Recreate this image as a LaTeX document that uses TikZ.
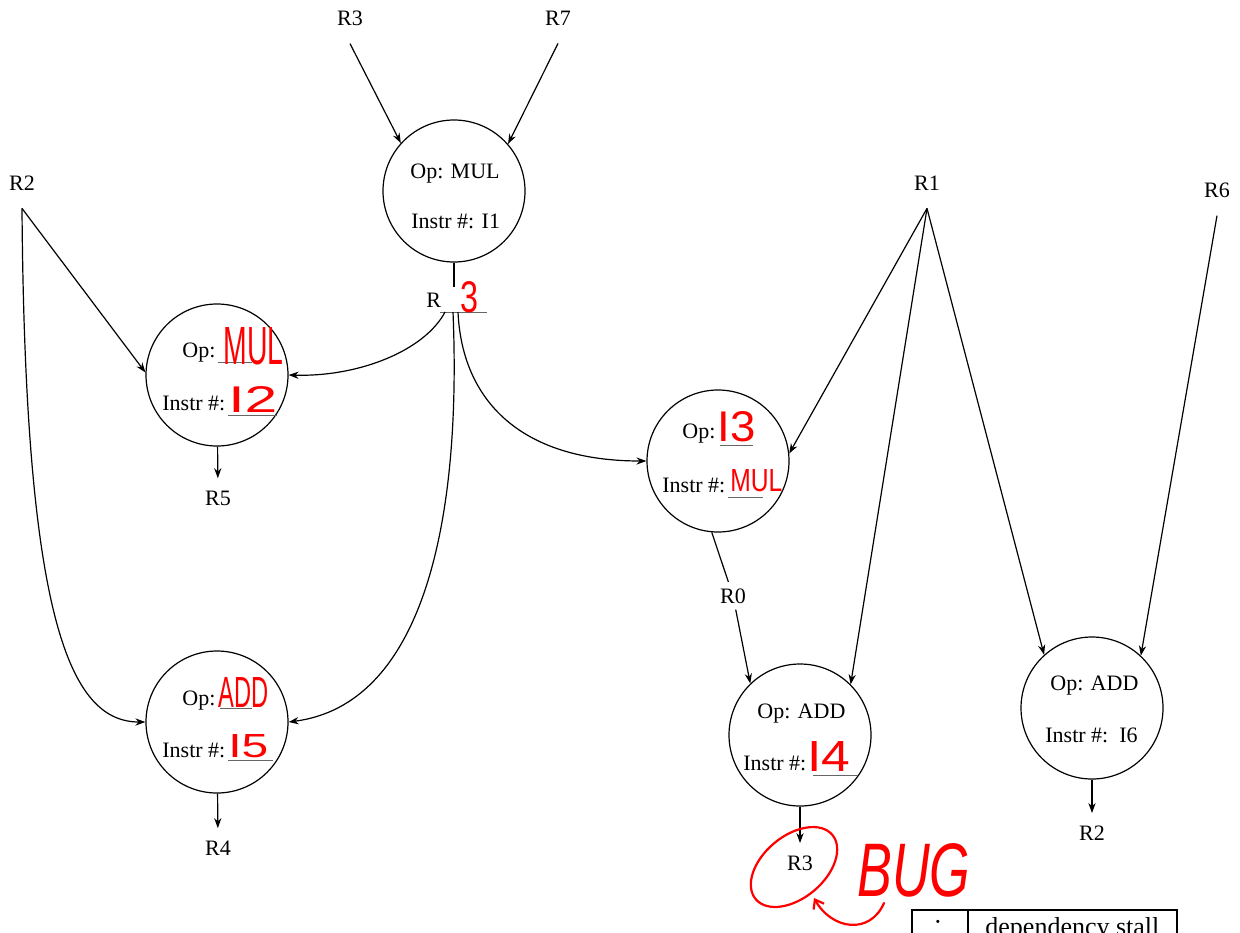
\documentclass[tikz,border=0pt]{standalone}
\usepackage{fontspec}
\setmainfont{Liberation Serif}
\newfontfamily\handfont{Liberation Sans}
\usepackage{graphicx}
\usetikzlibrary{arrows.meta}
\newcommand\hw[3]{\resizebox{#1pt}{#2pt}{\handfont #3}}
\tikzset{
  opnode/.style={circle, draw, line width=0.6pt, minimum size=71pt, inner sep=0pt},
  txt/.style={font=\fontsize{11}{13}\selectfont, inner sep=0pt, anchor=base west},
  toplbl/.style={font=\fontsize{11}{13}\selectfont, inner xsep=2pt, inner ysep=9pt, anchor=base},
  botlbl/.style={font=\fontsize{11}{13}\selectfont, inner xsep=2pt, inner ysep=6pt, anchor=base},
  midlbl/.style={font=\fontsize{11}{13}\selectfont, inner sep=3pt, anchor=base},
  arr/.style={line width=0.6pt, -{Stealth[length=5pt,width=3.6pt]}},
  plain/.style={line width=0.6pt},
  blankline/.style={draw=black!60, line width=0.5pt},
  hand/.style={text=red, inner sep=0pt, anchor=south west},
  redpen/.style={draw=red, line width=1.1pt, line cap=round},
}
\begin{document}
\begin{tikzpicture}[x=0.5pt, y=-0.5pt]
\useasboundingbox (0,0) rectangle (1240,932);
\clip (0,0) rectangle (1240,932);

% operation nodes
\node[opnode] (I1) at (454,191) {};
\node[opnode] (I2) at (217,375) {};
\node[opnode] (I5) at (217,722) {};
\node[opnode] (I3) at (718,461) {};
\node[opnode] (I4) at (800,735) {};
\node[opnode] (I6) at (1092,708) {};

% texts in nodes
\node[txt] (I1a) at (410,178) {Op: MUL};
\node[txt] (I1b) at (411,228) {Instr \#: I1};

\node[txt] (I2a) at (182,357) {Op:};
\node[txt] (I2b) at (162,410) {Instr \#:};
\draw[blankline] (218,362) -- (252,362);
\draw[blankline] (228,415) -- (277,415);
\node[hand] (I2c) at (223,365) {\hw{30}{18.5}{MUL}};
\node[hand] (I2d) at (228,413) {\hw{24.5}{13}{I2}};

\node[txt] (I5a) at (182,705) {Op:};
\node[txt] (I5b) at (162,757) {Instr \#:};
\draw[blankline] (220,708) -- (252,708);
\draw[blankline] (228,760) -- (273,760);
\node[hand] (I5c) at (218,708) {\hw{25}{15}{ADD}};
\node[hand] (I5d) at (228,758) {\hw{20}{11.5}{I5}};

\node[txt] (I3a) at (682,438) {Op:};
\node[txt] (I3b) at (662,492) {Instr \#:};
\draw[blankline] (720,445) -- (753,445);
\draw[blankline] (728,497) -- (763,497);
\node[hand] (I3c) at (717,442) {\hw{19}{15}{I3}};
\node[hand] (I3d) at (730,492) {\hw{26}{11}{MUL}};

\node[txt] (I4a) at (757,718) {Op: ADD};
\node[txt] (I4b) at (743,770) {Instr \#:};
\draw[blankline] (813,775) -- (858,775);
\node[hand] (I4c) at (807,772) {\hw{21.5}{15}{I4}};

\node[txt] (I6a) at (1050,690) {Op: ADD};
\node[txt] (I6b) at (1045,742) {Instr \#:\ \ I6};

% register labels
\node[toplbl] (R3t) at (350,25) {R3};
\node[toplbl] (R7t) at (558,25) {R7};
\node[toplbl] (R2t) at (22,190) {R2};
\node[toplbl] (R1t) at (927,190) {R1};
\node[toplbl] (R6t) at (1217,197) {R6};
\node[botlbl] (R5b) at (218,505) {R5};
\node[botlbl] (R4b) at (218,855) {R4};
\node[botlbl] (R3b) at (800,870) {R3};
\node[botlbl] (R2b) at (1092,840) {R2};
\node[midlbl] (R0m) at (733,603) {R0};

% result of I1: R_3
\coordinate (I1out) at (454,287);
\coordinate (Rsplit) at (453,312);
\node[txt] (Rlbl) at (426,307) {R};
\draw[blankline] (440,312) -- (487,312);
\node[hand] (Rred) at (460,313) {\hw{9}{15.5}{3}};
\draw[plain] (I1.south) -- (I1out);

% connectors
\draw[arr] (R3t.south) -- (I1.138);
\draw[arr] (R7t.south) -- (I1.41);

\draw[arr] (R2t.south) -- (I2.178);
\draw[arr] (R2t.south) .. controls (25,620) and (70,722) .. (I5.west);

\draw[arr] ([xshift=-4pt]Rsplit) .. controls (425,350) and (360,377) .. (I2.east);
\draw[arr] (Rsplit) .. controls (462,530) and (420,705) .. (I5.east);
\draw[arr] ([xshift=2.5pt]Rsplit) .. controls (462,400) and (520,461) .. (I3.west);

\draw[arr] (R1t.south) -- (I3.6);
\draw[arr] (R1t.south) -- (I4.45);
\draw[arr] (R1t.south) -- (I6.132);
\draw[arr] (R6t.south) -- (I6.47);

\draw[plain] (I3.265) -- (R0m);
\draw[arr] (R0m) -- (I4.134);

\draw[arr] (I2) -- (R5b);
\draw[arr] (I5) -- (R4b);
\draw[arr] (I4) -- (R3b);
\draw[arr] (I6) -- (R2b);

% BUG annotation
\draw[redpen] (794,867) ellipse [x radius=50, y radius=31, rotate=40];
\node[hand] (bug) at (857,898) {\hw{56.5}{26.5}{\itshape BUG}};
\draw[redpen, -{Straight Barb[length=4pt,width=6pt]}] (884,903) .. controls (870,935) and (832,930) .. (814,898);

% legend (cut off)
\draw[line width=0.6pt] (912,910) rectangle (1177,975);
\draw[line width=0.6pt] (968,910) -- (968,975);
\node[font=\fontsize{13}{15}\selectfont, inner sep=0pt] (dot) at (938,925) {·};
\node[font=\fontsize{13}{15}\selectfont, inner sep=0pt, anchor=base west] (legtxt) at (985,935) {dependency stall};
\end{tikzpicture}
\end{document}
